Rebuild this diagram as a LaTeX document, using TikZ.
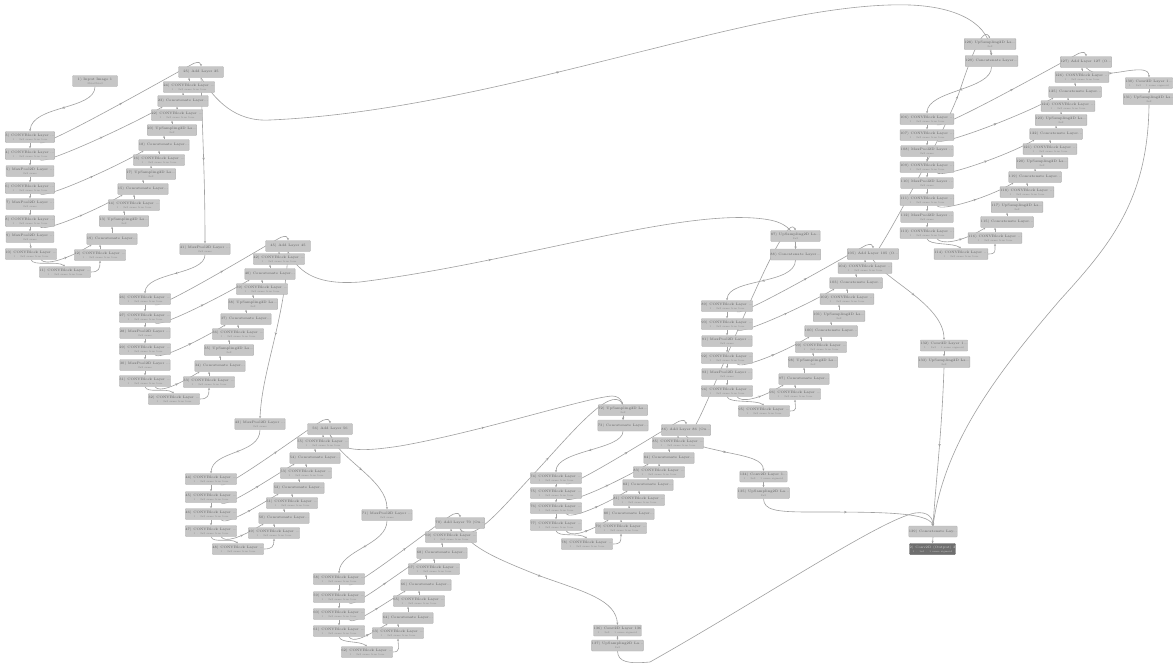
\documentclass[tikz,border=0pt]{standalone}
\usetikzlibrary{arrows.meta,decorations.markings,backgrounds,calc}
\definecolor{nodef}{RGB}{198,198,198}
\definecolor{nodeb}{RGB}{176,176,176}
\definecolor{txtc}{RGB}{92,92,92}
\definecolor{subc}{RGB}{135,135,135}
\definecolor{edgec}{RGB}{160,160,160}
\definecolor{darkf}{RGB}{110,110,110}
\definecolor{darkb}{RGB}{85,85,85}
\newcommand\subf{\fontsize{2.5}{3}\selectfont\color{subc}}
\tikzset{
 blk/.style={draw=nodeb, fill=nodef, rounded corners=0.8pt, minimum width=45pt, minimum height=11pt, inner sep=0pt, line width=0.4pt, font=\fontsize{3.4}{4}\selectfont, text=txtc, align=center},
 darkblk/.style={blk, fill=darkf, draw=darkb, text=white!82!black},
 lnk/.style={draw=edgec, color=edgec, line width=0.6pt},
 lnkarr/.style={lnk, -{Stealth[length=2.2pt,width=2pt]}},
 lnkat/.style={lnkarr, postaction={decorate}, decoration={markings, mark=at position #1 with {\arrow{Stealth[length=2.8pt,width=2.5pt]}}}},
 lnkat/.default=0.5
}
\newcommand\lyCB[3]{\node[blk] (#1) at (#2) {#3) CONVBlock Layer ...\\{\subf 1 · 3x3 same true true}};}
\newcommand\lyMP[3]{\node[blk] (#1) at (#2) {#3) MaxPool2D Layer ...\\{\subf 2x2 same}};}
\newcommand\lyUS[3]{\node[blk] (#1) at (#2) {#3) UpSampling2D La...\\{\subf 2x2}};}
\newcommand\lyCC[3]{\node[blk] (#1) at (#2) {#3) Concatenate Layer...};}
\newcommand\lyAD[3]{\node[blk] (#1) at (#2) {#3};}
\newcommand\lySC[3]{\node[blk] (#1) at (#2) {#3\\{\subf 1 · 3x3 · 1 same sigmoid}};}
\newcommand\lkdn[2]{\draw[lnkarr] (#1.south) -- (#2.north);}
\newcommand\lkup[2]{\draw[lnkarr] (#1.north) -- (#1.north |- #2.south);}
\newcommand\lkskip[2]{\draw[lnkat] ([xshift=10pt]#1.south) .. controls +(4,6) and +(-25,15) .. ([xshift=5pt]#2.south west);}
\newcommand\lkloop[2]{\draw[lnkat] ([xshift=10pt]#1.south) .. controls +(5,5) and +(-12,6) .. ([xshift=-7pt,yshift=3pt]#2.north) .. controls +(5,-2) and +(0,-3.5) .. (#2.north);}
\newcommand\lkbot[2]{\draw[lnkarr] (#1.south) .. controls +(2,7) and +(-8,-6) .. (#2.north);}
\newcommand\lkbd[2]{\draw[lnkarr] (#1.east) .. controls +(8,0) and +(0,8) .. (#2.south);}
\newcommand\rsueight[1]{%
\lkdn{#11}{#12}\lkdn{#12}{#13}\lkdn{#13}{#14}\lkdn{#14}{#15}\lkdn{#15}{#16}\lkdn{#16}{#17}\lkdn{#17}{#18}%
\lkbot{#18}{#1b}\lkbd{#1b}{#1d1}%
\lkup{#1d1}{#1c1}\lkup{#1c1}{#1u1}\lkup{#1u1}{#1d2}\lkup{#1d2}{#1c2}\lkup{#1c2}{#1u2}\lkup{#1u2}{#1d3}%
\lkup{#1d3}{#1c3}\lkup{#1c3}{#1u3}\lkup{#1u3}{#1d4}\lkup{#1d4}{#1c4}\lkup{#1c4}{#1d5}\lkup{#1d5}{#1add}%
\lkskip{#18}{#1c1}\lkskip{#16}{#1c2}\lkskip{#14}{#1c3}\lkskip{#12}{#1c4}%
\lkloop{#11}{#1add}}
\newcommand\rsusix[1]{%
\lkdn{#11}{#12}\lkdn{#12}{#13}\lkdn{#13}{#14}\lkdn{#14}{#15}\lkdn{#15}{#16}%
\lkbot{#16}{#1b}\lkbd{#1b}{#1d1}%
\lkup{#1d1}{#1c1}\lkup{#1c1}{#1u1}\lkup{#1u1}{#1d2}\lkup{#1d2}{#1c2}\lkup{#1c2}{#1u2}\lkup{#1u2}{#1d3}%
\lkup{#1d3}{#1c3}\lkup{#1c3}{#1d4}\lkup{#1d4}{#1add}%
\lkskip{#16}{#1c1}\lkskip{#14}{#1c2}\lkskip{#12}{#1c3}%
\lkloop{#11}{#1add}}
\newcommand\rsufour[1]{%
\lkdn{#11}{#12}\lkdn{#12}{#13}\lkdn{#13}{#14}%
\lkbot{#14}{#1b}\lkbd{#1b}{#1d1}%
\lkup{#1d1}{#1c1}\lkup{#1c1}{#1d2}\lkup{#1d2}{#1c2}\lkup{#1c2}{#1d3}\lkup{#1d3}{#1c3}\lkup{#1c3}{#1d4}\lkup{#1d4}{#1add}%
\lkskip{#14}{#1c1}\lkskip{#13}{#1c2}\lkskip{#12}{#1c3}%
\lkloop{#11}{#1add}}
\begin{document}
\begin{tikzpicture}[x=1pt,y=-1pt]
\useasboundingbox (0,0) rectangle (1173,664);
% ---------- cluster a (top left)
\node[blk] (ain) at (95,81) {1) Input Image 1\\{\subf 256x256x3}};
\lyCB{a1}{30,137}{3}
\lyCB{a2}{30,154}{4}
\lyMP{a3}{30,171}{5}
\lyCB{a4}{30,188}{6}
\lyMP{a5}{30,204}{7}
\lyCB{a6}{30,221}{8}
\lyMP{a7}{30,237}{9}
\lyCB{a8}{31,254}{10}
\lyCB{ab}{65,272}{11}
\lyCB{ad1}{100,255}{12}
\lyCC{ac1}{112,239}{19}
\lyUS{au1}{124,221}{13}
\lyCB{ad2}{134,205}{14}
\lyCC{ac2}{143,189}{15}
\lyUS{au2}{151,174}{17}
\lyCB{ad3}{159,160}{16}
\lyCC{ac3}{164,145}{18}
\lyUS{au3}{172,130}{20}
\lyCB{ad4}{177,115}{22}
\lyCC{ac4}{183,101}{23}
\lyCB{ad5}{189,87}{24}
\lyAD{aadd}{201,72}{25) Add Layer 25}
\lyMP{mpa}{205,249}{41}
% ---------- cluster b
\lyCB{b1}{145,299}{26}
\lyCB{b2}{145,317}{27}
\lyMP{b3}{145,333}{28}
\lyCB{b4}{145,349}{29}
\lyMP{b5}{145,365}{30}
\lyCB{b6}{145,381}{31}
\lyCB{bb}{174,399}{32}
\lyCB{bd1}{209,382}{33}
\lyCC{bc1}{220,366}{34}
\lyUS{bu1}{229,350}{35}
\lyCB{bd2}{238,334}{36}
\lyCC{bc2}{246,319}{37}
\lyUS{bu2}{253,304}{38}
\lyCB{bd3}{262,289}{39}
\lyCC{bc3}{270,274}{40}
\lyCB{bd4}{279,259}{42}
\lyAD{badd}{288,246}{45) Add Layer 45}
\lyMP{mpb}{260,424}{43}
% ---------- cluster c
\lyCB{c1}{211,479}{44}
\lyCB{c2}{211,497}{45}
\lyCB{c3}{211,514}{46}
\lyCB{c4}{211,531}{47}
\lyCB{cb}{238,549}{48}
\lyCB{cd1}{274,533}{49}
\lyCC{cc1}{284,518}{50}
\lyCB{cd2}{292,503}{51}
\lyCC{cc2}{299,488}{52}
\lyCB{cd3}{306,473}{53}
\lyCC{cc3}{315,458}{54}
\lyCB{cd4}{323,443}{55}
\lyAD{cadd}{330,429}{56) Add Layer 56}
\lyMP{mpc}{387,515}{71}
% ---------- cluster d
\lyCB{d1}{339,579}{58}
\lyCB{d2}{339,597}{59}
\lyCB{d3}{339,614}{60}
\lyCB{d4}{339,631}{61}
\lyCB{db}{367,652}{62}
\lyCB{dd1}{398,633}{63}
\lyCC{dc1}{408,618}{64}
\lyCB{dd2}{419,601}{65}
\lyCC{dc2}{426,585}{66}
\lyCB{dd3}{434,569}{67}
\lyCC{dc3}{442,553}{68}
\lyCB{dd4}{451,537}{69}
\lyAD{dadd}{460,523}{70) Add Layer 70 (Ou...}
% ---------- cluster e
\lyUS{ups5}{623,410}{72}
\lyCC{cat5}{623,425.5}{73}
\lyCB{e1}{556,478}{74}
\lyCB{e2}{556,493}{75}
\lyCB{e3}{556,508}{76}
\lyCB{e4}{556,525}{77}
\lyCB{eb}{587,544}{78}
\lyCB{ed1}{621,528}{79}
\lyCC{ec1}{629,514}{80}
\lyCB{ed2}{639,500}{81}
\lyCC{ec2}{648,485}{82}
\lyCB{ed3}{659,472}{83}
\lyCC{ec3}{669,458}{84}
\lyCB{ed4}{678,443}{85}
\lyAD{eadd}{686,430}{86) Add Layer 86 (Ou...}
% ---------- cluster f
\lyUS{ups6}{795.5,236}{87}
\lyCC{cat6}{795.5,254.5}{88}
\lyCB{f1}{727,306}{89}
\lyCB{f2}{727,324}{90}
\lyMP{f3}{727,341}{91}
\lyCB{f4}{727,358}{92}
\lyMP{f5}{727,374}{93}
\lyCB{f6}{727,391}{94}
\lyCB{fb}{764,411}{95}
\lyCB{fd1}{795,394}{96}
\lyCC{fc1}{804,379}{97}
\lyUS{fu1}{813,362}{98}
\lyCB{fd2}{821,347}{99}
\lyCC{fc2}{831,331}{100}
\lyUS{fu2}{839,316}{101}
\lyCB{fd3}{847,299}{102}
\lyCC{fc3}{856,283}{103}
\lyCB{fd4}{865,268}{104}
\lyAD{fadd}{873,254}{105) Add Layer 105 (O...}
% ---------- cluster g
\lyUS{ups7}{990,44}{128}
\lyCC{cat7}{991.5,61}{129}
\lyCB{g1}{927,119}{106}
\lyCB{g2}{927,135}{107}
\lyMP{g3}{927,151}{108}
\lyCB{g4}{927,167}{109}
\lyMP{g5}{927,183}{110}
\lyCB{g6}{927,200}{111}
\lyMP{g7}{927,217}{112}
\lyCB{g8}{927,233}{113}
\lyCB{gb}{961,254}{114}
\lyCB{gd1}{995,238}{116}
\lyCC{gc1}{1007,222}{115}
\lyUS{gu1}{1017,207}{117}
\lyCB{gd2}{1027,192}{118}
\lyCC{gc2}{1035,177}{119}
\lyUS{gu2}{1042,163}{120}
\lyCB{gd3}{1050,149}{121}
\lyCC{gc3}{1056,134}{122}
\lyUS{gu3}{1061,120}{123}
\lyCB{gd4}{1068,106}{124}
\lyCC{gc4}{1075,92}{125}
\lyCB{gd5}{1082,77}{126}
\lyAD{gadd}{1086,62}{127) Add Layer 127 (O...}
% ---------- side outputs and fusion
\lySC{sc7}{1149,83}{130) Conv2D Layer 1...}
\lyUS{su7}{1149,99}{131}
\lySC{sc6}{944,345.5}{132) Conv2D Layer 1...}
\lyUS{su6}{944,362}{133}
\lySC{sc5}{763.5,476.5}{134) Conv2D Layer 1...}
\lyUS{su5}{763.5,493}{135}
\lySC{sc4}{617.5,630.5}{136) Conv2D Layer 136}
\lyUS{su4}{617.5,645.5}{137}
\node[blk] (fcat) at (933,531.5) {139) Concatenate Lay...};
\node[darkblk] (final) at (932.5,549) {2) Conv2D (Output) 2\\{\fontsize{2.5}{3}\selectfont 1 · 1x1 · 1 same sigmoid}};
% ---------- connectors
\begin{pgfonlayer}{background}
\fill[white] (0,0) rectangle (1173,664);
\rsueight{a}
\rsusix{b}
\rsufour{c}
\rsufour{d}
\rsufour{e}
\rsusix{f}
\rsueight{g}
\draw[lnkat] (ain.south) .. controls (95,110) and (32,105) .. (a1.north);
\draw[lnkat] (aadd.south) .. controls (203,150) and (205,180) .. (mpa.north);
\draw[lnkat=0.45] (aadd.south) .. controls (215,100) and (235,122) .. (270,120) .. controls (500,110) and (760,0) .. (910,5) .. controls (960,7) and (990,25) .. (cat7.north);
\draw[lnkat] (mpa.south) .. controls (205,275) and (146,272) .. (b1.north);
\draw[lnkat] (badd.south) .. controls (285,320) and (262,370) .. (mpb.north);
\draw[lnkat=0.4] (badd.south) .. controls (300,275) and (320,285) .. (360,282) .. controls (520,262) and (690,205) .. (770,220) .. controls (790,224) and (796,235) .. (cat6.north);
\draw[lnkat] (mpb.south) .. controls (260,455) and (212,450) .. (c1.north);
\draw[lnkat] (cadd.south) .. controls (340,460) and (387,480) .. (mpc.north);
\draw[lnkat] (cadd.south) .. controls (340,452) and (360,452) .. (400,446) .. controls (480,432) and (585,398) .. (612,396) .. controls (622,396) and (625,405) .. (cat5.north);
\draw[lnkat] (mpc.south) .. controls (387,545) and (340,550) .. (d1.north);
\draw[lnkat=0.55] (dadd.south) .. controls (472,545) and (500,510) .. (530,478) .. controls (570,435) and (610,385) .. (ups5.north);
\draw[lnkat] (dadd.south) .. controls (470,548) and (500,560) .. (540,576) .. controls (585,592) and (616,600) .. (sc4.north);
\lkdn{ups5}{cat5}
\draw[lnkat] (cat5.south) .. controls (623,450) and (556,450) .. (e1.north);
\draw[lnkat] ([xshift=10pt]eadd.north) .. controls (715,390) and (785,205) .. (ups6.north);
\draw[lnkat] (eadd.south) .. controls (695,447) and (705,447) .. (725,452) .. controls (750,457) and (763,460) .. (sc5.north);
\lkdn{ups6}{cat6}
\draw[lnkat] (cat6.south) .. controls (795,285) and (728,278) .. (f1.north);
\draw[lnkat] (fadd.south) .. controls (885,280) and (944,305) .. (sc6.north);
\draw[lnkat=0.7] ([xshift=6pt]fadd.north) .. controls (900,215) and (950,120) .. (960,90) .. controls (970,60) and (983,24) .. (ups7.north);
\lkdn{ups7}{cat7}
\draw[lnkat] (cat7.south) .. controls (992,90) and (928,90) .. (g1.north);
\draw[lnkat=0.4] (gadd.south) .. controls (1095,76) and (1105,74) .. (1120,72) .. controls (1138,69) and (1149,68) .. (sc7.north);
\lkdn{sc7}{su7}
\lkdn{sc6}{su6}
\lkdn{sc5}{su5}
\lkdn{sc4}{su4}
\draw[lnkarr] (su7.south) .. controls (1148,200) and (1110,245) .. (1060,300) .. controls (1000,370) and (945,440) .. (fcat.north);
\draw[lnkat] (su6.south) .. controls (942,430) and (936,480) .. (fcat.north);
\draw[lnkat] (su5.south) .. controls (764,510) and (775,512) .. (810,512) .. controls (880,512) and (928,512) .. (fcat.north);
\draw[lnkarr] (su4.south) .. controls (618,662) and (628,664) .. (650,662) .. controls (760,600) and (880,520) .. (915,513) .. controls (928,511) and (933,518) .. (fcat.north);
\lkdn{fcat}{final}
\end{pgfonlayer}
\end{tikzpicture}
\end{document}
